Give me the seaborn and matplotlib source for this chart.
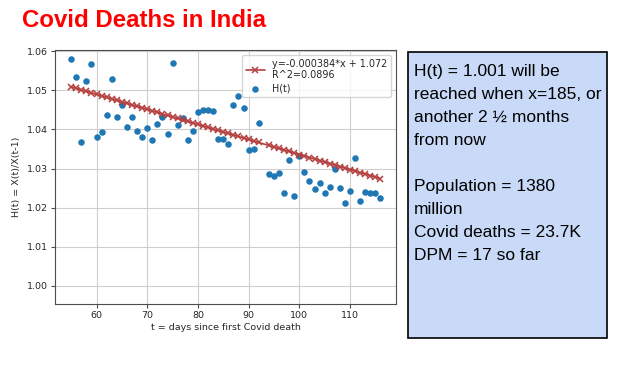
import seaborn as sns
import matplotlib.pyplot as plt
from matplotlib.patches import Rectangle

# values
days = [55, 56, 57, 58, 59, 60, 61, 62, 63, 64, 65, 66, 67, 68, 69, 70, 71, 72, 73, 74,
        75, 76, 77, 78, 79, 80, 81, 82, 83, 84, 85, 86, 87, 88, 89, 90, 91, 92, 94, 95,
        96, 97, 98, 99, 100, 101, 102, 103, 104, 105, 106, 107, 108, 109, 110, 111, 112,
        113, 114, 115, 116]
h_ratio = [1.0580, 1.0534, 1.0367, 1.0524, 1.0568, 1.0380, 1.0393, 1.0437, 1.0530, 1.0433,
           1.0463, 1.0406, 1.0431, 1.0397, 1.0380, 1.0403, 1.0373, 1.0415, 1.0433, 1.0388,
           1.0571, 1.0412, 1.0429, 1.0373, 1.0397, 1.0444, 1.0450, 1.0450, 1.0446, 1.0375,
           1.0375, 1.0363, 1.0462, 1.0486, 1.0456, 1.0347, 1.0351, 1.0416, 1.0285, 1.0280,
           1.0288, 1.0237, 1.0321, 1.0229, 1.0333, 1.0292, 1.0268, 1.0248, 1.0263, 1.0238,
           1.0253, 1.0300, 1.0250, 1.0211, 1.0244, 1.0327, 1.0218, 1.0240, 1.0238, 1.0238,
           1.0226]
fit_slope = -0.000384
fit_intercept = 1.072
fit_label = "y=-0.000384*x + 1.072\nR^2=0.0896"
x_ticks = [60, 70, 80, 90, 100, 110]
y_ticks = [1.00, 1.01, 1.02, 1.03, 1.04, 1.05, 1.06]
note_lines = ["H(t) = 1.001 will be", "reached when x=185, or", "another 2 \u00bd months",
              "from now", "", "Population = 1380", "million", "Covid deaths = 23.7K",
              "DPM = 17 so far"]

sns.set_style("whitegrid", {"axes.edgecolor": "0.3", "grid.color": "#cfcfcf",
                            "xtick.bottom": True, "ytick.left": True})
plt.rcParams['font.family'] = ['DejaVu Sans']

fig = plt.figure(figsize=(6.18, 3.71), dpi=100)
ax = fig.add_axes([0.089, 0.1806, 0.552, 0.6846])

line_color = '#b5403f'
fit_y = [fit_slope * d + fit_intercept for d in days]
sns.lineplot(x=days, y=fit_y, ax=ax, color=line_color, marker='x', markersize=4.5,
             markeredgewidth=1.1, markeredgecolor=line_color, linewidth=1.2,
             label=fit_label)
sns.scatterplot(x=days, y=h_ratio, ax=ax, color='#1f77b4', s=22, linewidth=0, label='H(t)')

ax.set_xlim(51.8, 119.1)
ax.set_ylim(0.9954, 1.0603)
ax.set_xticks(x_ticks)
ax.set_yticks(y_ticks)
ax.set_yticklabels([f"{v:.2f}" for v in y_ticks])
ax.tick_params(labelsize=6.8, length=3, width=0.8, color='0.3', pad=2)
ax.set_xlabel('t = days since first Covid death', fontsize=6.8, labelpad=2)
ax.set_ylabel('H(t) = X(t)/X(t-1)', fontsize=6.8, labelpad=4)
for s in ax.spines.values():
    s.set_linewidth(0.8)
ax.legend(loc='upper right', fontsize=6.9, frameon=True, borderpad=0.4,
          handlelength=2, labelspacing=0.3)

# title
fig.text(0.036, 0.946, 'Covid Deaths in India', color='#ff0000', fontsize=17.3,
         fontweight='bold', family=['Liberation Sans'], va='center', ha='left')

# note box
fig.add_artist(Rectangle((0.660, 0.089), 0.322, 0.771, transform=fig.transFigure,
                         facecolor='#c9daf8', edgecolor='black', linewidth=1.2))
line_h = 23 / 371
for i, line in enumerate(note_lines):
    fig.text(0.670, 1 - 71.5 / 371 - i * line_h, line, fontsize=12.5,
             family=['Liberation Sans'], va='center', ha='left', color='black')

plt.savefig('out.png', dpi=100)
plt.close()
